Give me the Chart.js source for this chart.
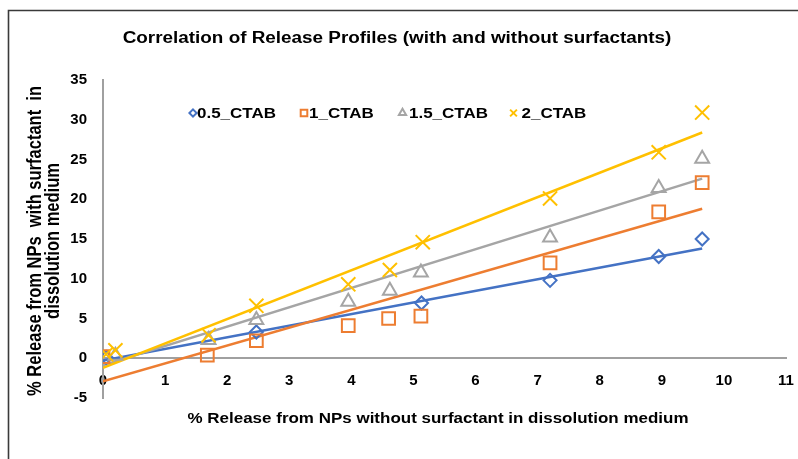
<!DOCTYPE html>
<html>
<head>
<meta charset="utf-8">
<script src="https://cdn.jsdelivr.net/npm/chart.js@4.4.1/dist/chart.umd.min.js"></script>
<style>
  html, body { margin: 0; padding: 0; background: #ffffff; }
  #wrap { width: 798px; height: 459px; position: relative; }
</style>
</head>
<body>
<div id="wrap"><canvas id="chart" width="798" height="459"></canvas></div>
<script>
// Series names
const seriesNames = ['0.5_CTAB', '1_CTAB', '1.5_CTAB', '2_CTAB'];

// % release without surfactant (x) and with surfactant (y), per CTAB level
const x05 = [0.05, 2.47, 5.13, 7.2, 8.95, 9.65];
const y05 = [0.1, 3.3, 6.95, 9.8, 12.8, 15.0];

const x10 = [0.0, 1.68, 2.47, 3.95, 4.6, 5.12, 7.2, 8.95, 9.65];
const y10 = [0.2, 0.4, 2.2, 4.1, 5.0, 5.3, 12.0, 18.4, 22.1];

const x15 = [0.2, 1.7, 2.47, 3.95, 4.62, 5.12, 7.2, 8.95, 9.65];
const y15 = [0.3, 2.3, 4.8, 7.1, 8.5, 10.8, 15.2, 21.4, 25.1];

const x20 = [0.05, 0.2, 1.7, 2.47, 3.95, 4.62, 5.15, 7.2, 8.95, 9.65];
const y20 = [0.5, 1.0, 2.9, 6.6, 9.3, 11.1, 14.6, 20.1, 25.9, 30.9];

// Linear trend lines (start and end of each fitted line)
const trendX = [0, 9.65];
const trend05 = [-0.3, 13.8];
const trend10 = [-2.9, 18.8];
const trend15 = [-0.9, 22.6];
const trend20 = [-1.2, 28.4];

// Axis ranges and tick steps
const xRange = [0, 11];
const xStep = 1;
const yRange = [-5, 35];
const yStep = 5;

// Text
const chartTitle = 'Correlation of Release Profiles (with and without surfactants)';
const xTitle = '% Release from NPs without surfactant in dissolution medium';
const yTitle = ['% Release from NPs  with surfactant  in', 'dissolution medium'];

const colors = ['#4472C4', '#ED7D31', '#A5A5A5', '#FFC000'];
const styles = ['rectRot', 'rect', 'triangle', 'crossRot'];
const radii = [6.5, 9, 8, 10];

const FONT = "'Liberation Sans', Arial, sans-serif";
const STRETCH = 1.18;

const pairs = (xs, ys) => xs.map((x, i) => ({ x: x, y: ys[i] }));

const markerSets = [[x05, y05], [x10, y10], [x15, y15], [x20, y20]];
const trendSets = [trend05, trend10, trend15, trend20];

const datasets = [];
markerSets.forEach(([xs, ys], i) => {
  datasets.push({
    label: seriesNames[i],
    data: pairs(xs, ys),
    showLine: false,
    pointStyle: styles[i],
    pointRadius: radii[i],
    pointHoverRadius: radii[i],
    pointBorderWidth: 2,
    pointBackgroundColor: 'rgba(0,0,0,0)',
    borderColor: colors[i],
    order: 4 - i
  });
});
trendSets.forEach((ys, i) => {
  datasets.push({
    label: seriesNames[i] + ' trend',
    data: pairs(trendX, ys),
    showLine: true,
    pointRadius: 0,
    borderColor: colors[i],
    borderWidth: 2.5,
    fill: false,
    order: 8 - i
  });
});

function stretchedText(ctx, text, x, y, align) {
  ctx.save();
  ctx.translate(x, y);
  ctx.scale(STRETCH, 1);
  ctx.textAlign = align;
  ctx.fillText(text, 0, 0);
  ctx.restore();
}

function legendMarker(ctx, style, cx, cy, color) {
  ctx.save();
  ctx.strokeStyle = color;
  ctx.lineWidth = 2;
  ctx.beginPath();
  if (style === 'rectRot') {
    const r = 3.6;
    ctx.moveTo(cx, cy - r); ctx.lineTo(cx + r, cy); ctx.lineTo(cx, cy + r); ctx.lineTo(cx - r, cy); ctx.closePath();
  } else if (style === 'rect') {
    const h = 3.3;
    ctx.rect(cx - h, cy - h, 2 * h, 2 * h);
  } else if (style === 'triangle') {
    const r = 4.2;
    ctx.moveTo(cx, cy - r);
    ctx.lineTo(cx + r * 0.866, cy + r * 0.5);
    ctx.lineTo(cx - r * 0.866, cy + r * 0.5);
    ctx.closePath();
  } else {
    const r = 3.4;
    ctx.moveTo(cx - r, cy - r); ctx.lineTo(cx + r, cy + r);
    ctx.moveTo(cx + r, cy - r); ctx.lineTo(cx - r, cy + r);
  }
  ctx.stroke();
  ctx.restore();
}

const decorations = {
  id: 'decorations',
  beforeDraw(chart) {
    const ctx = chart.ctx;
    ctx.save();
    ctx.fillStyle = '#ffffff';
    ctx.fillRect(0, 0, chart.width, chart.height);
    // outer frame (top and left edges)
    ctx.strokeStyle = '#3a3a3a';
    ctx.lineWidth = 1.6;
    ctx.beginPath();
    ctx.moveTo(8.5, chart.height);
    ctx.lineTo(8.5, 10.5);
    ctx.lineTo(chart.width, 10.5);
    ctx.stroke();
    ctx.restore();
  },
  afterDraw(chart) {
    const ctx = chart.ctx;
    const area = chart.chartArea;
    ctx.save();
    ctx.fillStyle = '#000000';
    ctx.textBaseline = 'middle';

    // chart title
    ctx.font = 'bold 16px ' + FONT;
    stretchedText(ctx, chartTitle, 397, 39, 'center');

    // x axis title
    ctx.font = 'bold 14.4px ' + FONT;
    stretchedText(ctx, xTitle, 438, 419, 'center');

    // y axis title (two rotated lines)
    ctx.font = 'bold 16.5px ' + FONT;
    const yMid = (area.top + area.bottom) / 2 + 2;
    [36, 54].forEach((lx, i) => {
      ctx.save();
      ctx.translate(lx, yMid);
      ctx.rotate(-Math.PI / 2);
      ctx.scale(1, STRETCH);
      ctx.textAlign = 'center';
      ctx.fillText(yTitle[i], 0, 0);
      ctx.restore();
    });

    // legend inside the plot area
    const legendY = 113;
    const markerX = [193, 304, 402.5, 513.5];
    const textX = [197, 309, 409, 521.5];
    ctx.font = 'bold 14.4px ' + FONT;
    seriesNames.forEach((name, i) => {
      legendMarker(ctx, styles[i], markerX[i], legendY, colors[i]);
      ctx.fillStyle = '#000000';
      stretchedText(ctx, name, textX[i], legendY + 1, 'left');
    });
    ctx.restore();
  }
};

Chart.defaults.font.family = FONT;

new Chart(document.getElementById('chart'), {
  type: 'scatter',
  data: { datasets: datasets },
  options: {
    responsive: false,
    animation: false,
    events: [],
    layout: { padding: { left: 63, right: 12, top: 80, bottom: 61 } },
    plugins: {
      legend: { display: false },
      title: { display: false },
      tooltip: { enabled: false }
    },
    scales: {
      x: {
        type: 'linear',
        min: xRange[0],
        max: xRange[1],
        position: { y: 0 },
        grid: { display: false, drawTicks: false },
        border: { display: true, color: '#a0a0a0', width: 2 },
        ticks: {
          stepSize: xStep,
          padding: 14,
          color: '#000000',
          font: { size: 15, weight: 'bold', family: FONT }
        },
        afterFit(scale) {
          scale.height = 0;
          scale.paddingLeft = 9;
          scale.paddingRight = 9;
        }
      },
      y: {
        type: 'linear',
        min: yRange[0],
        max: yRange[1],
        position: 'left',
        grid: { display: false, drawTicks: false },
        border: { display: true, color: '#a0a0a0', width: 2 },
        ticks: {
          stepSize: yStep,
          padding: 16,
          color: '#000000',
          font: { size: 15, weight: 'bold', family: FONT }
        },
        afterFit(scale) { scale.width = 40; }
      }
    }
  },
  plugins: [decorations]
});
</script>
</body>
</html>
